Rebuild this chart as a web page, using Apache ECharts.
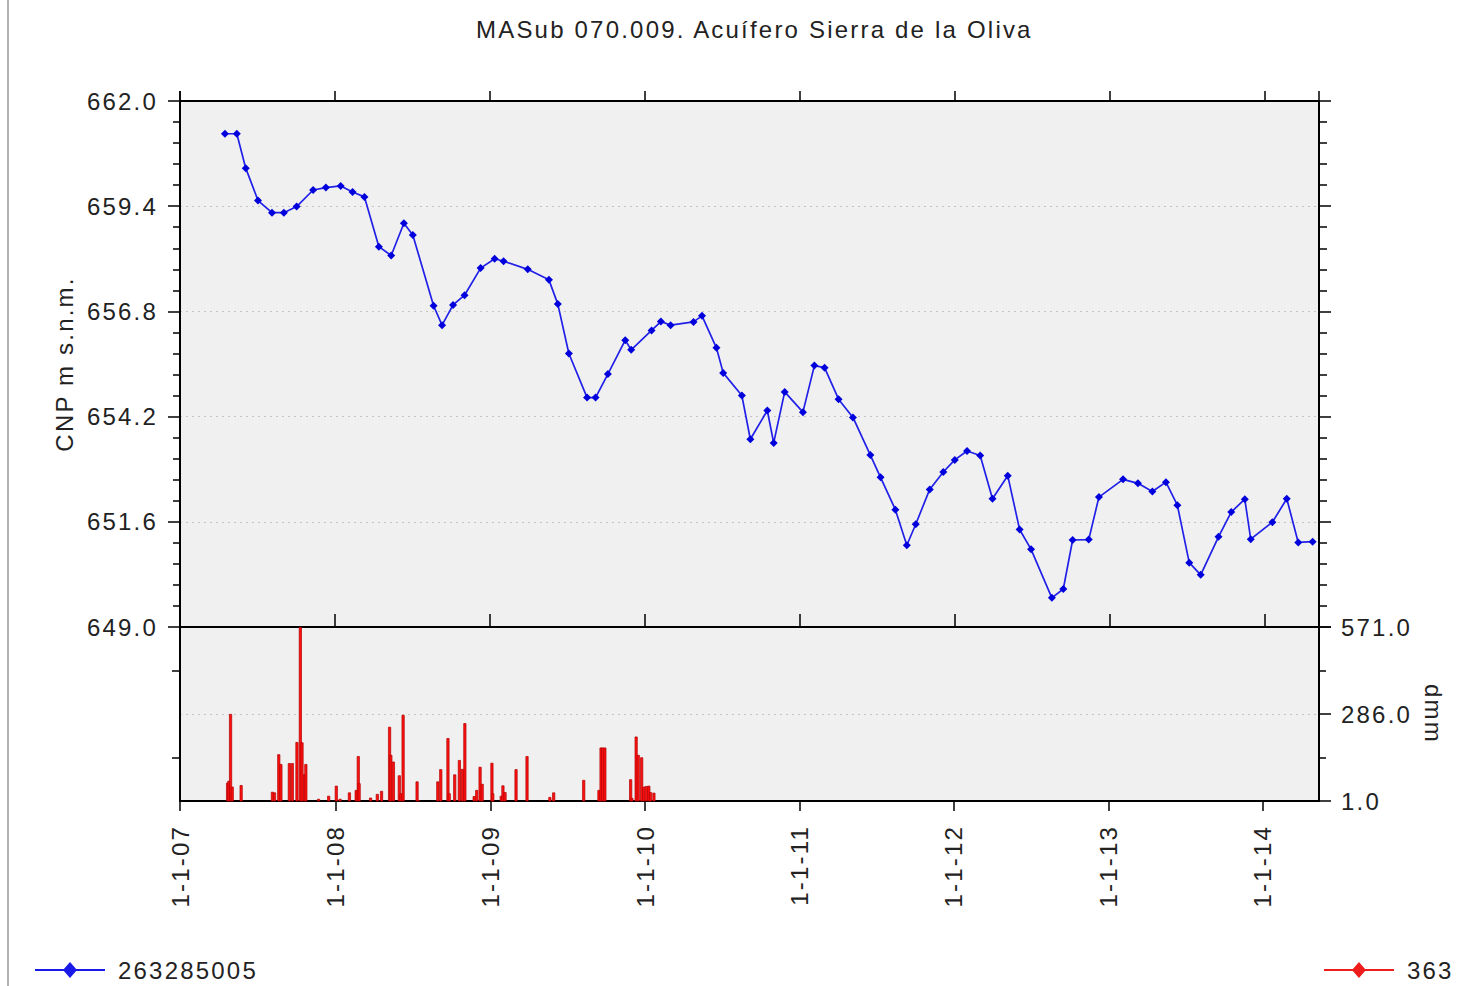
<!DOCTYPE html>
<html>
<head>
<meta charset="utf-8">
<script src="https://cdn.jsdelivr.net/npm/echarts@6/dist/echarts.min.js"></script>
<style>
html, body { margin: 0; padding: 0; background: #fff; }
#chart { width: 1457px; height: 986px; }
/* the original plot uses a loosely spaced sans */
#chart text { letter-spacing: 2.2px; }
</style>
</head>
<body>
<div id="chart"></div>
<script>
// piezometric level, m s.n.m.
const levelDates = [
    '2007-04-17','2007-05-15','2007-06-05','2007-07-04','2007-08-06','2007-09-03','2007-10-03','2007-11-11','2007-12-11',
    '2008-01-15','2008-02-12','2008-03-11','2008-04-14','2008-05-13','2008-06-12','2008-07-03','2008-08-21','2008-09-10',
    '2008-10-06','2008-11-02','2008-12-10','2009-01-12','2009-02-02','2009-03-31','2009-05-20','2009-06-10','2009-07-06',
    '2009-08-18','2009-09-07','2009-10-06','2009-11-16','2009-11-30','2010-01-17','2010-02-08','2010-03-03','2010-04-26',
    '2010-05-16','2010-06-19','2010-07-05','2010-08-18','2010-09-07','2010-10-17','2010-11-01','2010-11-27','2011-01-09',
    '2011-02-05','2011-03-01','2011-04-03','2011-05-07','2011-06-17','2011-07-11','2011-08-15','2011-09-11','2011-10-02',
    '2011-11-04','2011-12-06','2012-01-02','2012-01-31','2012-03-02','2012-03-31','2012-05-06','2012-06-03','2012-06-30',
    '2012-08-18','2012-09-14','2012-10-06','2012-11-13','2012-12-07','2013-02-02','2013-03-09','2013-04-12','2013-05-14',
    '2013-06-10','2013-07-08','2013-08-04','2013-09-15','2013-10-15','2013-11-16','2013-11-30','2014-01-20','2014-02-23',
    '2014-03-22','2014-04-25'
];
const levelValues = [
    661.19, 661.19, 660.34, 659.54, 659.24, 659.24, 659.39, 659.80, 659.86,
    659.90, 659.75, 659.63, 658.40, 658.18, 658.98, 658.69, 656.94, 656.46,
    656.96, 657.20, 657.87, 658.10, 658.04, 657.84, 657.58, 656.98, 655.76,
    654.67, 654.67, 655.25, 656.09, 655.85, 656.33, 656.55, 656.46, 656.54,
    656.69, 655.90, 655.28, 654.72, 653.64, 654.35, 653.55, 654.81, 654.31,
    655.46, 655.41, 654.63, 654.18, 653.25, 652.70, 651.90, 651.02, 651.54,
    652.40, 652.83, 653.13, 653.35, 653.24, 652.17, 652.74, 651.41, 650.92,
    649.72, 649.94, 651.15, 651.16, 652.21, 652.65, 652.55, 652.35, 652.58,
    652.01, 650.59, 650.29, 651.23, 651.84, 652.16, 651.17, 651.59, 652.17,
    651.09, 651.11
];

// rainfall, dmm
const rainDates = [
    '2007-04-20','2007-04-23','2007-04-27','2007-05-01','2007-05-22','2007-08-04','2007-08-09','2007-08-19','2007-08-24',
    '2007-09-13','2007-09-20','2007-10-01','2007-10-09','2007-10-13','2007-10-19','2007-10-22','2007-11-21','2007-12-15',
    '2008-01-02','2008-01-11','2008-02-02','2008-02-18','2008-02-23','2008-02-25','2008-03-23','2008-04-08','2008-04-18',
    '2008-05-07','2008-05-10','2008-05-16','2008-05-30','2008-06-03','2008-06-08','2008-07-11','2008-07-14','2008-08-29',
    '2008-09-05','2008-09-22','2008-09-25','2008-10-08','2008-10-19','2008-10-26','2008-11-01','2008-11-23','2008-11-29',
    '2008-12-07','2008-12-12','2009-01-04','2009-01-06','2009-01-26','2009-01-30','2009-02-04','2009-03-02','2009-03-28',
    '2009-05-21','2009-05-30','2009-08-09','2009-09-14','2009-09-19','2009-09-23','2009-09-28','2009-11-28','2009-12-01',
    '2009-12-11','2009-12-16','2009-12-24','2009-12-29','2010-01-04','2010-01-10','2010-01-14','2010-01-22'
];
const rainValues = [
    61, 67, 286, 48, 53, 31, 29, 154, 122,
    125, 125, 194, 571, 193, 89, 122, 8, 18,
    51, 8, 29, 37, 148, 59, 12, 24, 34,
    244, 152, 130, 85, 26, 283, 65, 4, 65,
    105, 207, 26, 88, 135, 106, 256, 17, 37,
    113, 57, 126, 26, 18, 52, 30, 105, 148,
    14, 29, 70, 37, 176, 176, 176, 72, 11,
    212, 152, 144, 48, 50, 51, 30, 28
];

const levelTicks = [649, 662, 2.6];
const rainTicks = [1, 571, 285];
const xStart = '2007-01-01';
const xEnd = '2014-05-10';

const FONT = 'Liberation Sans';
const TXT = '#222';
const DAY = 24 * 3600 * 1000;
const YEAR = 365 * DAY;
const AX = { color: '#000', width: 2 };
const TK = { color: '#000', width: 1.5 };

const legendIcon = 'path://M0,7h70v2h-70z M35,0L42,8L35,16L28,8z';

function fmt1(v) { return v.toFixed(1); }
// ticks fall on 1 January, printed as d-M-yy
function fmtYear(v) {
    let d = new Date(v + 15 * DAY);
    return '1-1-' + String(d.getFullYear()).slice(2);
}

function timeAxis(grid, pos, opts) {
    return Object.assign({
        type: 'time', gridIndex: grid, position: pos,
        min: xStart, max: xEnd,
        minInterval: YEAR, maxInterval: YEAR + DAY,
        axisLine: { show: true, onZero: false, lineStyle: AX },
        axisTick: { show: true, length: 10, lineStyle: TK },
        axisLabel: { show: false },
        splitLine: { show: false }
    }, opts);
}

let chart = echarts.init(document.getElementById('chart'), null, { renderer: 'svg' });
let option = {
    backgroundColor: '#fff',
    animation: false,
    textStyle: { fontFamily: FONT },
    title: {
        text: 'MASub 070.009. Acuífero Sierra de la Oliva',
        left: 471, top: 12,
        textStyle: { fontFamily: FONT, fontSize: 24, fontWeight: 'normal', color: TXT }
    },
    grid: [
        { left: 180, right: 138, top: 101, height: 526, show: true, backgroundColor: '#f0f0f0', borderWidth: 0 },
        { left: 180, right: 138, top: 627, height: 174, show: true, backgroundColor: '#f0f0f0', borderWidth: 0 }
    ],
    xAxis: [
        timeAxis(0, 'top', {}),
        timeAxis(0, 'bottom', { axisTick: { show: true, inside: true, length: 13, lineStyle: TK } }),
        timeAxis(1, 'bottom', {
            axisLabel: {
                show: true, rotate: 90, margin: 24, showMinLabel: true,
                formatter: fmtYear,
                fontFamily: FONT, fontSize: 24, color: TXT
            }
        })
    ],
    yAxis: [
        {
            type: 'value', gridIndex: 0, position: 'left',
            min: levelTicks[0], max: levelTicks[1], interval: levelTicks[2],
            name: 'CNP m s.n.m.', nameLocation: 'middle', nameRotate: 90, nameGap: 104,
            nameTextStyle: { fontFamily: FONT, fontSize: 24, color: TXT },
            axisLine: { show: true, lineStyle: AX },
            axisTick: { show: true, length: 12, lineStyle: TK },
            minorTick: { show: true, splitNumber: 5, length: 7, lineStyle: TK },
            axisLabel: { formatter: fmt1, margin: 22, fontFamily: FONT, fontSize: 24, color: TXT },
            splitLine: { show: true, showMinLine: false, showMaxLine: false, lineStyle: { color: '#c4c4c4', type: [2, 4] } }
        },
        {
            type: 'value', gridIndex: 0, position: 'right',
            min: levelTicks[0], max: levelTicks[1], interval: levelTicks[2],
            axisLine: { show: true, lineStyle: AX },
            axisTick: { show: true, length: 12, lineStyle: TK },
            minorTick: { show: true, splitNumber: 5, length: 8, lineStyle: TK },
            axisLabel: { show: false },
            splitLine: { show: false }
        },
        {
            type: 'value', gridIndex: 1, position: 'left',
            min: rainTicks[0], max: rainTicks[1], interval: rainTicks[2],
            axisLine: { show: true, lineStyle: AX },
            axisTick: { show: false },
            minorTick: { show: true, splitNumber: 2, length: 8, lineStyle: TK },
            axisLabel: { show: false },
            splitLine: { show: true, showMinLine: false, showMaxLine: false, lineStyle: { color: '#c4c4c4', type: [2, 4] } }
        },
        {
            type: 'value', gridIndex: 1, position: 'right',
            min: rainTicks[0], max: rainTicks[1], interval: rainTicks[2],
            name: 'dmm', nameLocation: 'middle', nameRotate: -90, nameGap: 102,
            nameTextStyle: { fontFamily: FONT, fontSize: 24, color: TXT },
            axisLine: { show: true, lineStyle: AX },
            axisTick: { show: true, length: 12, lineStyle: TK },
            minorTick: { show: true, splitNumber: 2, length: 7, lineStyle: TK },
            axisLabel: { formatter: fmt1, margin: 22, fontFamily: FONT, fontSize: 24, color: TXT },
            splitLine: { show: false }
        }
    ],
    legend: [
        {
            left: 30, top: 953, itemWidth: 70, itemHeight: 16, itemGap: 10,
            data: [{ name: '263285005', icon: legendIcon, itemStyle: { color: '#1a1ae8', borderWidth: 0 } }],
            textStyle: { fontFamily: FONT, fontSize: 24, color: TXT, padding: [0, 0, 0, 8] }
        },
        {
            right: 5, top: 953, itemWidth: 70, itemHeight: 16, itemGap: 10,
            data: [{ name: '363', icon: legendIcon, itemStyle: { color: '#ee1c1c', borderWidth: 0 } }],
            textStyle: { fontFamily: FONT, fontSize: 24, color: TXT, padding: [0, 0, 0, 8] }
        }
    ],
    graphic: [
        { type: 'line', shape: { x1: 8, y1: 0, x2: 8, y2: 986 }, style: { stroke: '#999', lineWidth: 1.5 }, silent: true }
    ],
    series: [
        {
            name: '263285005', type: 'line',
            xAxisIndex: 0, yAxisIndex: 0,
            data: levelDates.map((d, i) => [d, levelValues[i]]),
            symbol: 'diamond', symbolSize: 8,
            itemStyle: { color: '#0000dd' },
            lineStyle: { color: '#2020e8', width: 1.7 }
        },
        {
            name: '363', type: 'bar',
            xAxisIndex: 2, yAxisIndex: 2,
            data: rainDates.map((d, i) => [d, rainValues[i]]),
            barWidth: 3,
            itemStyle: { color: '#ff1010', borderColor: '#b00000', borderWidth: 0.7 }
        }
    ]
};
chart.setOption(option);
</script>
</body>
</html>
